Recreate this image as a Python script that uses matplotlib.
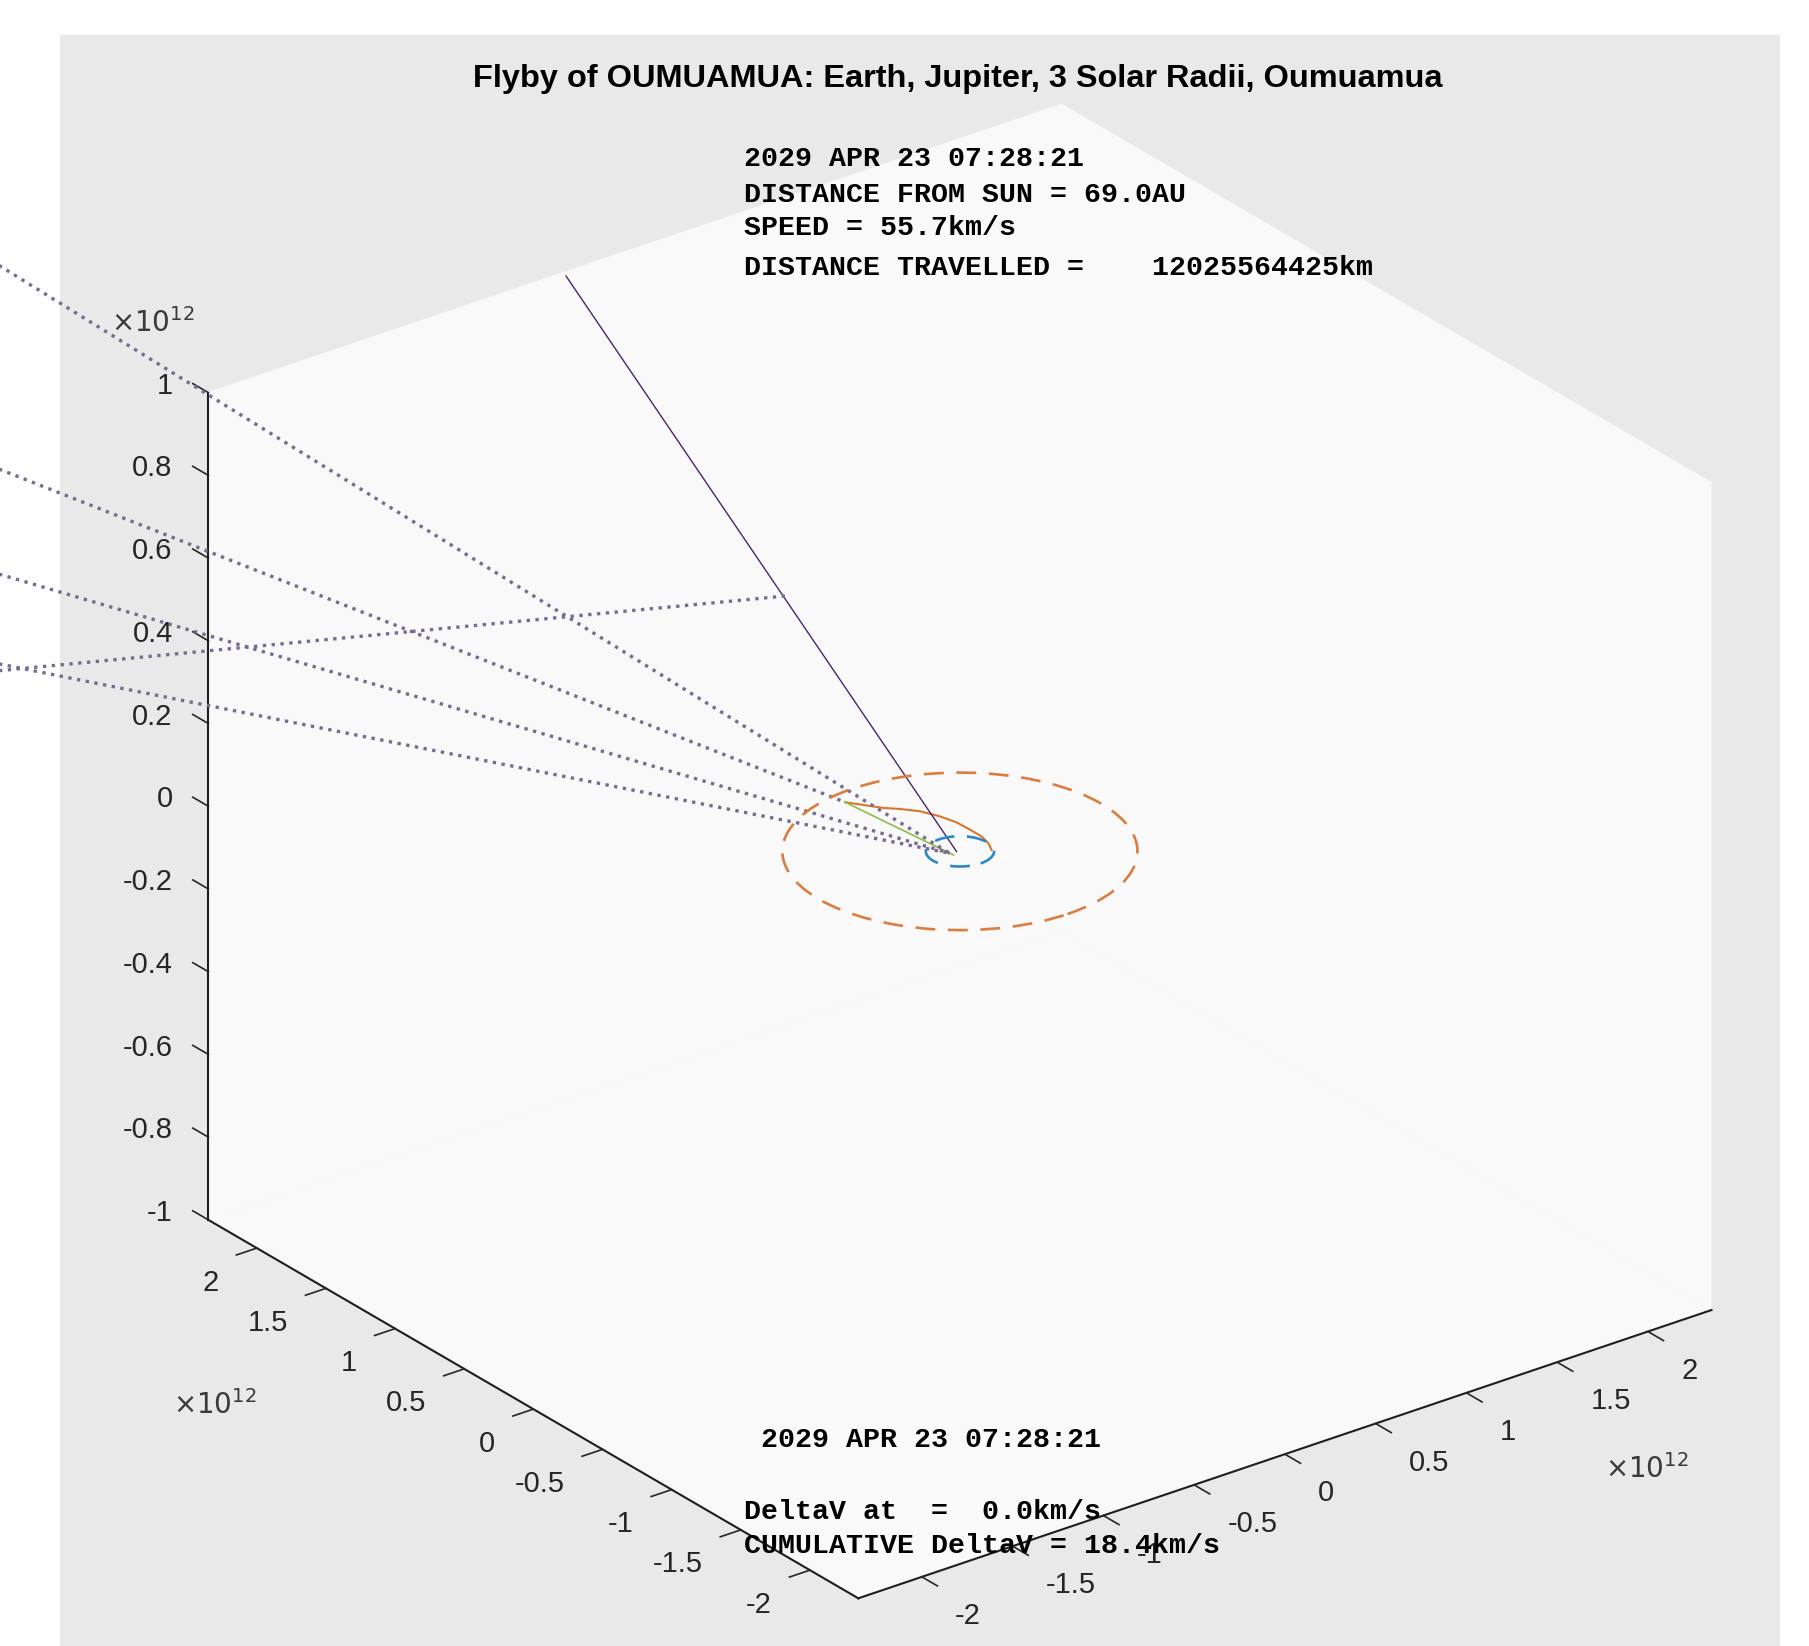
import numpy as np
import matplotlib
matplotlib.use("Agg")
import matplotlib.pyplot as plt
from matplotlib.patches import Circle, Rectangle
from matplotlib.ticker import NullFormatter
import mpl_toolkits.mplot3d.art3d as art3d
from mpl_toolkits.mplot3d import proj3d

plt.rcParams['font.family'] = ['Liberation Sans', 'DejaVu Sans']

# all positions in units of 1e12 m, ecliptic plane is z = 0
earth_orbit_r = 0.1496
jupiter_orbit_r = 0.778

# Earth -> Jupiter transfer arc
transfer_x = [0.119, 0.148, 0.165, 0.165, 0.162, 0.140, 0.101, 0.045, -0.007, -0.106]
transfer_y = [-0.073, -0.011, 0.060, 0.143, 0.236, 0.328, 0.421, 0.492, 0.545, 0.691]

# Jupiter -> 3 solar radii leg
leg_x = [-0.106, -0.044]
leg_y = [0.691, -0.011]

# outbound leg towards Oumuamua (leaves the box)
out_x = [-0.013, -0.38]
out_y = [0.007, 2.35]
out_z = [0.0, 0.99]

# dotted lines: far end -> near end
dot_x0 = [0.173, -1.136, -1.804, -2.378, -2.534]
dot_y0 = [7.662, 5.939, 5.059, 4.303, 4.097]
dot_x1 = [-0.047, -0.106, -0.047, -0.047, 0.939]
dot_y1 = [0.013, 0.691, 0.013, 0.013, 2.462]

xy_ticks = [-2, -1.5, -1, -0.5, 0, 0.5, 1, 1.5, 2]
z_ticks = [-1, -0.8, -0.6, -0.4, -0.2, 0, 0.2, 0.4, 0.6, 0.8, 1]
lim_xy = 2.35
lim_z = 1.0

title = "Flyby of OUMUAMUA: Earth, Jupiter, 3 Solar Radii, Oumuamua"
info_top = ["2029 APR 23 07:28:21",
            "DISTANCE FROM SUN = 69.0AU",
            "SPEED = 55.7km/s",
            "DISTANCE TRAVELLED =    12025564425km"]
info_bottom = ["DeltaV at  =  0.0km/s",
               "CUMULATIVE DeltaV = 18.4km/s"]
date_bottom = "2029 APR 23 07:28:21"

fig = plt.figure(figsize=(18.09, 16.46), dpi=100, facecolor='white')
fig.add_artist(Rectangle((0.0332, 0.0), 0.9508, 0.9787, transform=fig.transFigure,
                         facecolor='#e9e9e9', edgecolor='none', zorder=-5))

ax = fig.add_axes([-0.0371, -0.1412, 1.1056, 1.2151], projection='3d', proj_type='ortho')
ax.set_facecolor('none')
ax.set_xlim(-lim_xy, lim_xy)
ax.set_ylim(-lim_xy, lim_xy)
ax.set_zlim(-lim_z, lim_z)
ax.set_box_aspect((1072.5, 1072.5, 923), zoom=0.8618)
ax.view_init(elev=26.33, azim=-127.3)
ax.grid(False)

ax.set_xticks(xy_ticks)
ax.set_yticks(xy_ticks)
ax.set_zticks(z_ticks)
ax.tick_params(axis='both', colors='#262626')
ax.tick_params(axis='z', colors='#262626')

pane = (0.976, 0.976, 0.976, 1.0)
for axis in (ax.xaxis, ax.yaxis, ax.zaxis):
    axis.set_pane_color(pane)
    axis.line.set_color('#1e1e1e')
    axis.line.set_linewidth(1.5)
    axis.set_major_formatter(NullFormatter())
    axis._axinfo['tick']['linewidth'] = {True: 1.2, False: 0.8}
    # tick labels are drawn below as text, hide the built-in (empty) ones
    for tk in axis.get_major_ticks():
        tk.label1.set_visible(False)
        tk.label2.set_visible(False)
    axis.label.set_visible(False)
    axis.offsetText.set_visible(False)
# MATLAB style: ticks point out of the box
for axis in (ax.xaxis, ax.yaxis):
    axis._axinfo['tick']['inward_factor'] = 0.3
    axis._axinfo['tick']['outward_factor'] = 0.0
ax.zaxis._axinfo['tick']['inward_factor'] = 0.0
ax.zaxis._axinfo['tick']['outward_factor'] = 0.3
ax.zaxis._get_tickdir = lambda *args, **kwargs: 1

# tick labels: project the 3D anchor once and place plain 2D text there
M = ax.get_proj()


def label3d(x, y, z, s, **kw):
    px, py, _ = proj3d.proj_transform(x, y, z, M)
    ax.text2D(px, py, s, transform=ax.transData, **kw)


lab = dict(fontsize=21, color='#262626')
for t in xy_ticks:
    label3d(t, -lim_xy - 0.2415, -lim_z - 0.048, f"{t:g}", ha='left', va='center', **lab)
    label3d(-lim_xy - 0.21, t, -lim_z - 0.0525, f"{t:g}", ha='right', va='center', **lab)
for t in z_ticks:
    label3d(-lim_xy - 0.083, lim_xy + 0.1495, t, f"{t:g}", ha='right', va='center', **lab)

# orbits
dash = (0, (7.5, 4.8))
jup = Circle((0, 0), jupiter_orbit_r, fill=False, ec='#dc7d3f', lw=1.9, ls=dash)
ax.add_patch(jup)
art3d.pathpatch_2d_to_3d(jup, z=0, zdir='z')
earth = Circle((0, 0), earth_orbit_r, fill=False, ec='#2b88c8', lw=1.9, ls=dash)
ax.add_patch(earth)
art3d.pathpatch_2d_to_3d(earth, z=0, zdir='z')

ax.plot(transfer_x, transfer_y, np.zeros(len(transfer_x)), color='#d9772f', lw=1.5)
ax.plot(leg_x, leg_y, [0, 0], color='#8cbf4a', lw=1.2)
ax.plot(out_x, out_y, out_z, color='#4a2470', lw=1.0)
for x0, y0, x1, y1 in zip(dot_x0, dot_y0, dot_x1, dot_y1):
    ax.plot([x0, x1], [y0, y1], [0, 0], color='#786a92', lw=2.4, ls=':')

# scale labels
sc = dict(fontsize=20, color='#3a3a3a', ha='left', va='baseline')
fig.text(0.0615, 0.7985, r'$\times10^{12}$', **sc)
fig.text(0.0955, 0.1409, r'$\times10^{12}$', **sc)
fig.text(0.8874, 0.1021, r'$\times10^{12}$', **sc)

fig.text(0.5294, 0.9523, title, fontsize=23.4, fontweight='bold', ha='center', va='center')

mono = dict(family='Liberation Mono', fontweight='bold', fontsize=20.3, color='black',
            ha='left', va='center')
for s, y in zip(info_top, [0.9034, 0.8815, 0.8615, 0.8372]):
    fig.text(0.4113, y, s, **mono)
fig.text(0.4207, 0.1252, date_bottom, **mono)
for s, y in zip(info_bottom, [0.0814, 0.0608]):
    fig.text(0.4113, y, s, **mono)

fig.savefig('out.png', dpi=100)
